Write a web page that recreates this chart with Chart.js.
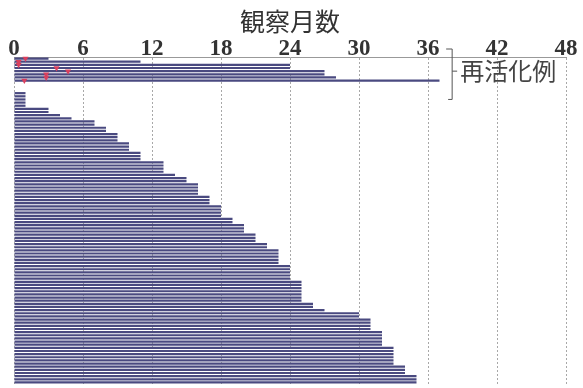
<!DOCTYPE html>
<html>
<head>
<meta charset="utf-8">
<script src="https://cdn.jsdelivr.net/npm/chart.js@4.4.1/dist/chart.umd.min.js"></script>
<style>
html,body{margin:0;padding:0;background:#fff;}
#wrap{width:583px;height:388px;position:relative;}
</style>
</head>
<body>
<div id="wrap"><canvas id="c"></canvas></div>
<script>
// Observation months, reactivation cases (top group)
const reactivationMonths = [3, 11, 24, 24, 27, 27, 28, 37];
// Empty rows between the two groups
const gapRows = 3;
// Observation months, other cases (sorted ascending)
const otherMonths = [
  1,1,1,1,1, 3,3, 4, 5, 7,7, 8,8, 9,9,9, 10,10,10, 11,11,11,
  13,13,13,13, 14, 15,15, 16,16,16,16, 17,17,17, 18,18,18,18,
  19,19, 20,20,20, 21,21,21, 22,22, 23,23,23,23,23,
  24,24,24,24,24, 25,25,25,25,25,25,25, 26,26, 27,
  30,30, 31,31,31,31, 32,32,32,32,32, 33,33,33,33,33,33,
  34,34,34, 35,35,35
];
// Reactivation events: [month, row index within reactivation group]
const eventMonths = [1.0, 0.4, 0.4, 3.7, 4.7, 2.8, 2.8, 0.9];
const eventRows   = [0,   1,   2,   3,   2,   4,   6,   7];

const xTicks = [0, 6, 12, 18, 24, 30, 36, 42, 48];
const axisTitle = '観察月数';
const groupLabel = '再活化例';

const values = [...reactivationMonths, ...Array(gapRows).fill(null), ...otherMonths];
const labels = values.map((_, i) => String(i));

const bracketPlugin = {
  id: 'bracket',
  afterDraw(chart) {
    const {ctx, scales} = chart;
    const y = scales.y, x = scales.x;
    const bx = x.getPixelForValue(38.1);
    const top = x.bottom - 8;
    const bottom = y.getPixelForValue(reactivationMonths.length + gapRows + 2);
    const mid = (y.getPixelForValue(0) + y.getPixelForValue(reactivationMonths.length)) / 2;
    ctx.save();
    ctx.strokeStyle = '#555';
    ctx.lineWidth = 1;
    ctx.beginPath();
    ctx.moveTo(bx - 6, top); ctx.lineTo(bx, top); ctx.lineTo(bx, bottom); ctx.lineTo(bx - 4, bottom);
    ctx.moveTo(bx, mid); ctx.lineTo(bx + 5, mid);
    ctx.stroke();
    ctx.fillStyle = '#444';
    ctx.font = '24px "Noto Sans CJK JP"';
    ctx.textBaseline = 'middle';
    ctx.fillText(groupLabel, bx + 8, mid);
    ctx.restore();
  }
};

new Chart(document.getElementById('c'), {
  data: {
    labels: labels,
    datasets: [
      {
        type: 'bar',
        data: values,
        backgroundColor: '#4a4a80',
        borderWidth: 0,
        barPercentage: 0.7,
        categoryPercentage: 1.0,
        order: 2
      },
      {
        type: 'scatter',
        data: eventMonths.map((m, i) => ({x: m, y: eventRows[i]})),
        pointStyle: 'triangle',
        rotation: 180,
        radius: 3.5,
        backgroundColor: '#d9405e',
        borderColor: '#d9405e',
        borderWidth: 0,
        order: 1
      }
    ]
  },
  options: {
    indexAxis: 'y',
    responsive: true,
    maintainAspectRatio: false,
    animation: false,
    layout: {padding: {left: 14, right: 17, top: 6, bottom: 0}},
    plugins: {legend: {display: false}, tooltip: {enabled: false}},
    scales: {
      x: {
        type: 'linear',
        position: 'top',
        min: 0, max: 48,
        afterBuildTicks(scale) { scale.ticks = xTicks.map(v => ({value: v})); },
        grid: {color: '#a8a8a8', lineWidth: 1, drawTicks: false},
        border: {display: true, color: '#999', dash: [2, 2]},
        ticks: {
          color: '#333',
          padding: -4,
          maxRotation: 0,
          font: {family: '"Liberation Serif"', size: 23, weight: 'bold', lineHeight: 1.0}
        },
        title: {
          display: true,
          text: axisTitle,
          color: '#333',
          font: {family: '"Noto Sans CJK JP"', size: 25, lineHeight: 1.2},
          padding: {top: 0, bottom: 6}
        }
      },
      y: {
        type: 'category',
        display: false,
        offset: true,
        grid: {display: false}
      }
    }
  },
  plugins: [bracketPlugin]
});
</script>
</body>
</html>
